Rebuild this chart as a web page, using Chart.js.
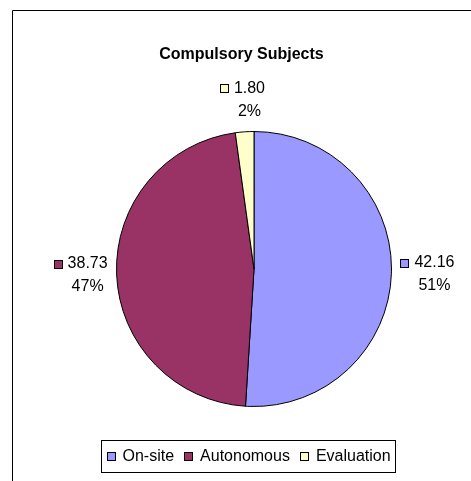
<!DOCTYPE html>
<html>
<head>
<meta charset="utf-8">
<script src="https://cdn.jsdelivr.net/npm/chart.js@4/dist/chart.umd.min.js"></script>
<style>
  html, body { margin: 0; padding: 0; background: #ffffff; }
  #wrap { position: relative; width: 471px; height: 481px; }
  canvas { display: block; }
</style>
</head>
<body>
<div id="wrap"><canvas id="pie" width="471" height="481"></canvas></div>
<script>
// Hours per study mode for the compulsory subjects
const chartTitle = 'Compulsory Subjects';
const categories = ['On-site', 'Autonomous', 'Evaluation'];
const hours = [42.16, 38.73, 1.80];
const sliceColors = ['#9999FF', '#993366', '#FFFFCC'];

const FONT = '"Liberation Sans", Arial, Helvetica, sans-serif';

// Title, outside slice labels, boxed legend and the frame edges
const excelDecor = {
  id: 'excelDecor',
  beforeDraw(chart) {
    const ctx = chart.ctx;
    ctx.save();
    ctx.fillStyle = '#ffffff';
    ctx.fillRect(0, 0, chart.width, chart.height);
    ctx.strokeStyle = '#000000';
    ctx.lineWidth = 1;
    ctx.beginPath();
    ctx.moveTo(12.5, chart.height);
    ctx.lineTo(12.5, 10.5);
    ctx.lineTo(chart.width, 10.5);
    ctx.stroke();
    ctx.restore();
  },
  afterDraw(chart) {
    const ctx = chart.ctx;
    const ds = chart.data.datasets[0];
    const total = ds.data.reduce((a, b) => a + b, 0);
    ctx.save();

    // title
    ctx.fillStyle = '#000000';
    ctx.font = 'bold 16px ' + FONT;
    ctx.textAlign = 'center';
    ctx.textBaseline = 'middle';
    ctx.fillText(chartTitle, 241.5, 55);

    // slice labels: colour key + value, percentage underneath
    ctx.font = '16px ' + FONT;
    const meta = chart.getDatasetMeta(0);
    meta.data.forEach((arc, i) => {
      const v = ds.data[i];
      const valueText = v.toFixed(2);
      const pctText = Math.round(v / total * 100) + '%';
      const mid = (arc.startAngle + arc.endAngle) / 2;
      const r = arc.outerRadius + 9;
      const ax = arc.x + Math.cos(mid) * r;
      const ay = arc.y + Math.sin(mid) * r;
      const tw = ctx.measureText(valueText).width;
      const W = 14 + tw;
      const H = 46;
      const cx = ax + Math.cos(mid) * W / 2;
      const cy = ay + Math.sin(mid) * H / 2;
      const left = cx - W / 2;
      const textLeft = left + 14;
      const y1 = cy - 11.5;
      const y2 = cy + 11.5;
      // key square
      const sx = Math.round(left) + 0.5;
      const sy = Math.round(y1 - 4) + 0.5;
      ctx.fillStyle = ds.backgroundColor[i];
      ctx.fillRect(sx, sy, 8, 8);
      ctx.strokeStyle = '#000000';
      ctx.lineWidth = 1;
      ctx.strokeRect(sx, sy, 8, 8);
      ctx.fillStyle = '#000000';
      ctx.textAlign = 'left';
      ctx.fillText(valueText, textLeft, y1);
      ctx.textAlign = 'center';
      ctx.fillText(pctText, textLeft + tw / 2, y2);
    });

    // legend
    const labels = chart.data.labels;
    const widths = labels.map(l => ctx.measureText(l).width);
    const gap = 10;
    const inner = widths.reduce((a, w) => a + 16 + w, 0) + gap * (labels.length - 1);
    const boxW = inner + 10;
    const boxLeft = Math.round(248.5 - boxW / 2) + 0.5;
    const boxTop = 440.5, boxH = 32;
    ctx.strokeStyle = '#000000';
    ctx.lineWidth = 1;
    ctx.strokeRect(boxLeft, boxTop, Math.round(boxW), boxH);
    let x = boxLeft + 5;
    const ly = boxTop + boxH / 2;
    labels.forEach((l, i) => {
      const sx = Math.round(x) + 0.5;
      const sy = Math.round(ly - 4) - 0.5;
      ctx.fillStyle = ds.backgroundColor[i];
      ctx.fillRect(sx, sy, 8, 8);
      ctx.strokeRect(sx, sy, 8, 8);
      ctx.fillStyle = '#000000';
      ctx.textAlign = 'left';
      ctx.fillText(l, x + 16, ly);
      x += 16 + widths[i] + gap;
    });
    ctx.restore();
  }
};

new Chart(document.getElementById('pie'), {
  type: 'pie',
  data: {
    labels: categories,
    datasets: [{
      data: hours,
      backgroundColor: sliceColors,
      borderColor: '#000000',
      borderWidth: 1
    }]
  },
  options: {
    responsive: false,
    animation: false,
    layout: { padding: { left: 116, right: 79, top: 131, bottom: 74 } },
    plugins: {
      legend: { display: false },
      title: { display: false },
      tooltip: { enabled: false }
    }
  },
  plugins: [excelDecor]
});
</script>
</body>
</html>
